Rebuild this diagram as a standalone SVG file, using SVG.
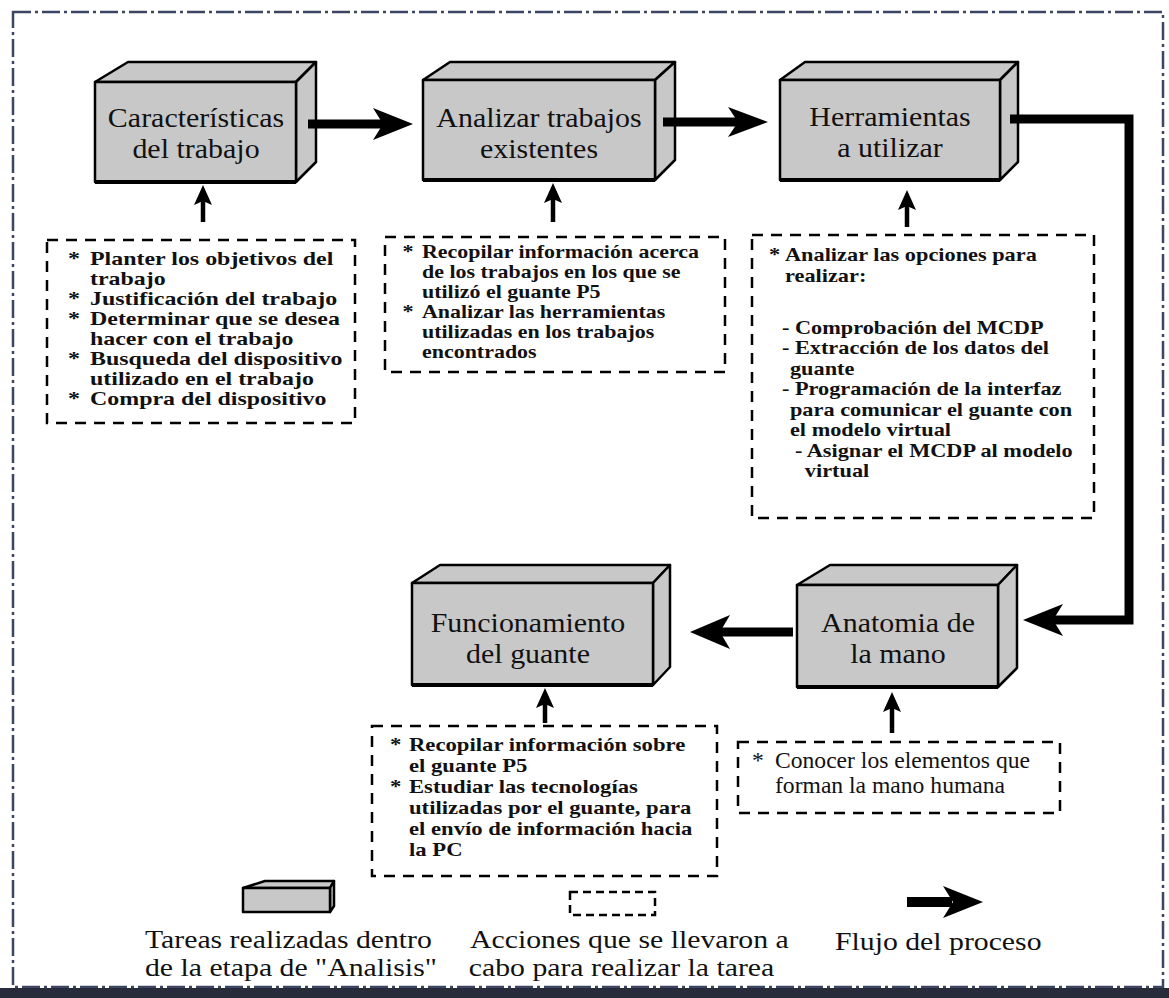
<svg xmlns="http://www.w3.org/2000/svg" width="1169" height="998" viewBox="0 0 1169 998">
<style>
.face{fill:#c8c8c8;stroke:#000;stroke-width:2.5;stroke-linejoin:round}
.base{stroke:#000;stroke-width:4;fill:none}
.lbl{font-family:"Liberation Serif","Times New Roman",serif;font-size:28px;text-anchor:middle;fill:#111}
.dash{fill:none;stroke:#000;stroke-width:2.5;stroke-dasharray:11 8}
.note{font-family:"Liberation Serif","Times New Roman",serif;font-size:18px;font-weight:bold;fill:#111}
.note2{font-family:"Liberation Serif","Times New Roman",serif;font-size:22.5px;fill:#111}
.leg{font-family:"Liberation Serif","Times New Roman",serif;font-size:25px;fill:#111}
.flow{fill:none;stroke:#000;stroke-width:9;stroke-linejoin:miter}
.up{stroke:#000;stroke-width:4.5}
.head{fill:#000}
.frame{fill:none;stroke:#3c4564;stroke-width:2.5;stroke-dasharray:18 4 3 4}
</style>
<rect x="0" y="0" width="1169" height="998" fill="#fff"/>
<rect class="frame" x="13" y="12" width="1150" height="975"/>
<rect x="0" y="988" width="1169" height="10" fill="#282c3a"/>

<g id="n1">
<polygon class="face" points="95,82 128,62 316,62 296,82"/>
<polygon class="face" points="296,82 316,62 316,162 296,182"/>
<rect class="face" x="95" y="82" width="201" height="100"/>
<line class="base" x1="95" y1="182" x2="296" y2="182"/>
<g class="lbl" transform="translate(196,0) scale(1.07,1)">
<text x="0" y="127">Características</text>
<text x="0" y="158.5">del trabajo</text>
</g>
</g>

<g id="n2">
<polygon class="face" points="423,80 450,62 675,62 655,80"/>
<polygon class="face" points="655,80 675,62 675,160 655,180"/>
<rect class="face" x="423" y="80" width="232" height="100"/>
<line class="base" x1="423" y1="180" x2="655" y2="180"/>
<g class="lbl" transform="translate(539,0) scale(1.07,1)">
<text x="0" y="127">Analizar trabajos</text>
<text x="0" y="158.5">existentes</text>
</g>
</g>

<g id="n3">
<polygon class="face" points="780,80 805,62 1018,62 1000,80"/>
<polygon class="face" points="1000,80 1018,62 1018,162 1000,180"/>
<rect class="face" x="780" y="80" width="220" height="100"/>
<line class="base" x1="780" y1="180" x2="1000" y2="180"/>
<g class="lbl" transform="translate(890,0) scale(1.07,1)">
<text x="0" y="126">Herramientas</text>
<text x="0" y="157.5">a utilizar</text>
</g>
</g>

<g id="n4">
<polygon class="face" points="412,583 440,565 670,565 653,583"/>
<polygon class="face" points="653,583 670,565 670,667 653,685"/>
<rect class="face" x="412" y="583" width="241" height="102"/>
<line class="base" x1="412" y1="685" x2="653" y2="685"/>
<g class="lbl" transform="translate(528,0) scale(1.07,1)">
<text x="0" y="632">Funcionamiento</text>
<text x="0" y="663.5">del guante</text>
</g>
</g>

<g id="n5">
<polygon class="face" points="797,585 830,565 1017,565 998,585"/>
<polygon class="face" points="998,585 1017,565 1017,668 998,687"/>
<rect class="face" x="797" y="585" width="201" height="102"/>
<line class="base" x1="797" y1="687" x2="998" y2="687"/>
<g class="lbl" transform="translate(898,0) scale(1.07,1)">
<text x="0" y="632">Anatomia de</text>
<text x="0" y="663.5">la mano</text>
</g>
</g>

<g id="a1">
<rect class="dash" x="47" y="240" width="308" height="183"/>
<g class="note" transform="translate(90,0) scale(1.33,1)">
<text x="-16.5" y="265">*</text><text x="0" y="265">Planter los objetivos del</text>
<text x="0" y="285">trabajo</text>
<text x="-16.5" y="305">*</text><text x="0" y="305">Justificación del trabajo</text>
<text x="-16.5" y="325">*</text><text x="0" y="325">Determinar que se desea</text>
<text x="0" y="345">hacer con el trabajo</text>
<text x="-16.5" y="365">*</text><text x="0" y="365">Busqueda del dispositivo</text>
<text x="0" y="385">utilizado en el trabajo</text>
<text x="-16.5" y="405">*</text><text x="0" y="405">Compra del dispositivo</text>
</g>
</g>

<g id="a2">
<rect class="dash" x="385" y="237" width="340" height="135"/>
<g class="note" transform="translate(422,0) scale(1.22,1)">
<text x="-16" y="258">*</text><text x="0" y="258">Recopilar información acerca</text>
<text x="0" y="278">de los trabajos en los que se</text>
<text x="0" y="298">utilizó el guante P5</text>
<text x="-16" y="318">*</text><text x="0" y="318">Analizar las herramientas</text>
<text x="0" y="338">utilizadas en los trabajos</text>
<text x="0" y="358">encontrados</text>
</g>
</g>

<g id="a3">
<rect class="dash" x="752" y="235" width="342" height="283"/>
<g class="note" transform="translate(785,0) scale(1.24,1)">
<text x="-13" y="261">*</text><text x="0" y="261">Analizar las opciones para</text>
<text x="0" y="282">realizar:</text>
<text x="-2.5" y="334">- Comprobación del MCDP</text>
<text x="-2.5" y="354.5">- Extracción de los datos del</text>
<text x="4" y="375">guante</text>
<text x="-2.5" y="395.5">- Programación de la interfaz</text>
<text x="4" y="416">para comunicar el guante con</text>
<text x="4" y="436.5">el modelo virtual</text>
<text x="8" y="457">- Asignar el MCDP al modelo</text>
<text x="16" y="477.5">virtual</text>
</g>
</g>

<g id="a4">
<rect class="dash" x="372" y="726" width="345" height="150"/>
<g class="note" transform="translate(409,0) scale(1.26,1)">
<text x="-15" y="751">*</text><text x="0" y="751">Recopilar información sobre</text>
<text x="0" y="772">el guante P5</text>
<text x="-15" y="793">*</text><text x="0" y="793">Estudiar las tecnologías</text>
<text x="0" y="814">utilizadas por el guante, para</text>
<text x="0" y="835">el envío de información hacia</text>
<text x="0" y="856">la PC</text>
</g>
</g>

<g id="a5">
<rect class="dash" x="738" y="742" width="322" height="71"/>
<g class="note2" transform="translate(775,0) scale(1.05,1)">
<text x="-22" y="768">*</text><text x="0" y="768">Conocer los elementos que</text>
<text x="0" y="793">forman la mano humana</text>
</g>
</g>

<g id="connectors">
<line class="flow" x1="308" y1="124" x2="385" y2="124"/>
<polygon class="head" points="413,124 373,108 383,124 373,140"/>
<line class="flow" x1="663" y1="122" x2="740" y2="122"/>
<polygon class="head" points="768,122 728,107 738,122 728,137"/>
<path class="flow" d="M1010,119 H1129 V620 H1052"/>
<polygon class="head" points="1023,620 1063,604 1053,620 1063,636"/>
<line class="flow" x1="793" y1="632" x2="720" y2="632"/>
<polygon class="head" points="690,632 730,615 720,632 730,649"/>

<line class="up" x1="203" y1="222" x2="203" y2="198"/>
<polygon class="head" points="203,185 212,205 203,201 194,205"/>
<line class="up" x1="553" y1="222" x2="553" y2="196"/>
<polygon class="head" points="553,183 562,203 553,199 544,203"/>
<line class="up" x1="907" y1="227" x2="907" y2="203"/>
<polygon class="head" points="907,190 916,210 907,206 898,210"/>
<line class="up" x1="545" y1="723" x2="545" y2="701"/>
<polygon class="head" points="545,688 554,708 545,704 536,708"/>
<line class="up" x1="892" y1="733" x2="892" y2="705"/>
<polygon class="head" points="892,692 901,712 892,708 883,712"/>
</g>

<g id="legend">
<polygon class="face" points="243,888 265,881 334,881 330,888"/>
<polygon class="face" points="330,888 334,881 334,906 330,912"/>
<rect class="face" x="243" y="888" width="87" height="24"/>
<rect class="dash" x="570" y="892" width="85" height="23" style="stroke-dasharray:8 5"/>
<line x1="907" y1="902" x2="952" y2="902" stroke="#000" stroke-width="10"/>
<polygon class="head" points="983,902 943,886 953,902 943,918"/>
<g class="leg" transform="translate(145,0) scale(1.19,1)">
<text x="0" y="948">Tareas realizadas dentro</text>
<text x="0" y="976">de la etapa de "Analisis"</text>
</g>
<g class="leg" transform="translate(470,0) scale(1.19,1)">
<text x="0" y="948">Acciones que se llevaron a</text>
<text x="-1" y="976">cabo para realizar la tarea</text>
</g>
<g class="leg" transform="translate(835,0) scale(1.19,1)">
<text x="0" y="950">Flujo del proceso</text>
</g>
</g>
</svg>
